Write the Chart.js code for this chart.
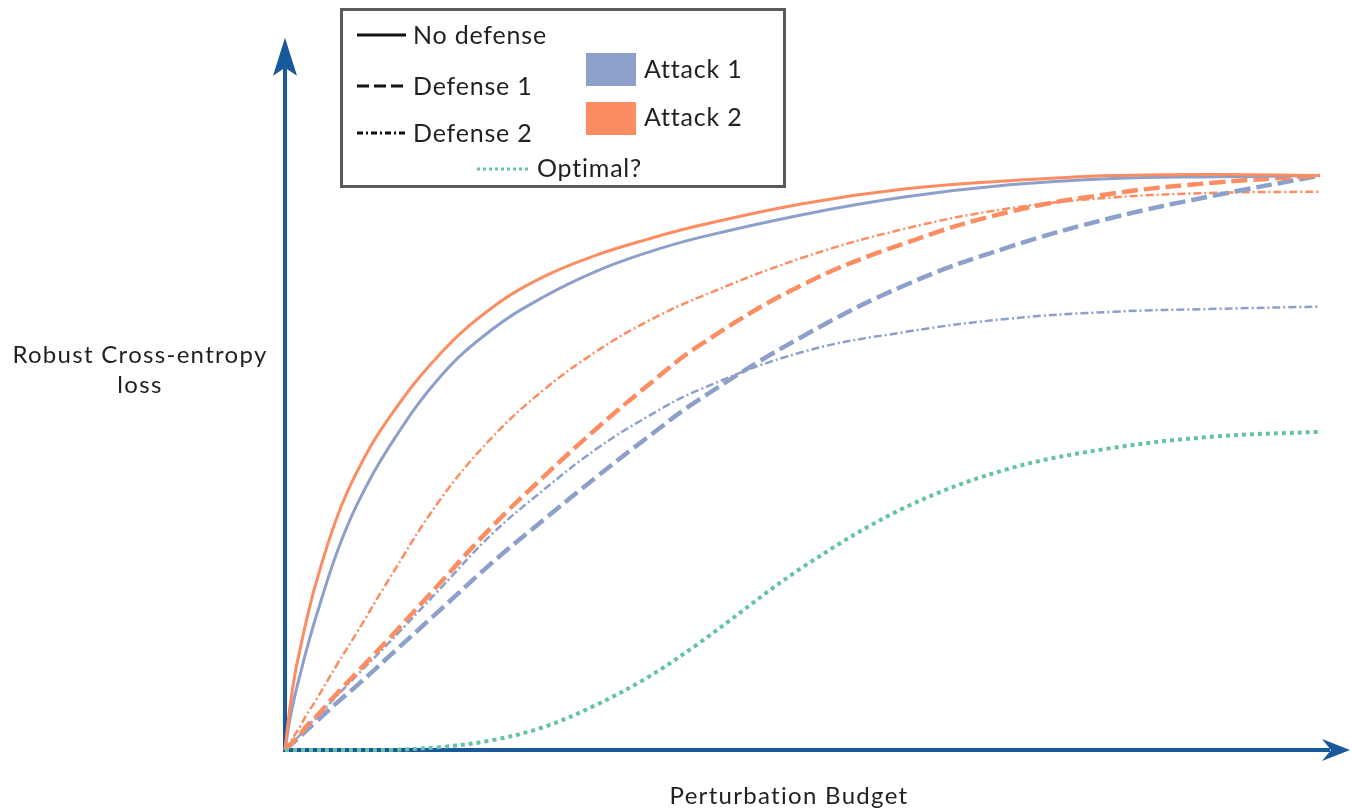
<!DOCTYPE html>
<html><head><meta charset="utf-8">
<script src="https://cdn.jsdelivr.net/npm/chart.js@4.4.1/dist/chart.umd.min.js"></script>
<style>html,body{margin:0;padding:0;background:#fff;}canvas{display:block}</style>
</head><body>
<canvas id="c" width="1352" height="809"></canvas>
<script>
// Perturbation budget (x, arbitrary units 0..100)
const budget = [0,0.5,1,1.5,2,3,5,7,10,15,20,25,30,35,40,50,60,70,80,90,100];
// Robust cross-entropy loss (arbitrary units, 100 = saturation)
const noDefenseAttack1 = [0,5.6,9.8,13.4,16.9,23.2,34.3,42.9,52.6,65.0,73.2,78.9,83.3,86.6,89.2,93.2,96.3,98.4,99.5,99.8,100];
const noDefenseAttack2 = [0,7.8,13.6,17.9,22.0,29.1,40.4,48.6,57.7,69.0,77.0,82.4,86.1,88.9,91.3,95.1,97.7,99.1,100.0,100.2,100];
const defense1Attack1 = [0,0.8,1.6,2.4,3.3,4.9,8.2,11.3,16.2,24.4,32.6,40.1,47.4,54.4,61.0,72.0,81.0,87.6,92.7,96.6,100];
const defense1Attack2 = [0,0.9,1.9,2.8,4.0,5.8,9.8,13.6,19.3,29.1,38.9,47.6,55.8,63.4,70.4,81.0,88.3,93.7,96.9,98.8,100];
const defense2Attack1 = [0,0.9,1.8,2.7,3.8,5.6,9.4,13.1,18.6,28.1,37.6,45.3,52.3,58.0,62.7,69.3,72.8,75.1,76.3,76.8,77.2];
const defense2Attack2 = [0,1.4,2.8,4.2,5.9,8.7,14.8,20.6,29.6,43.6,54.4,62.7,69.3,74.6,78.8,85.7,90.8,94.3,96.2,97.0,97.2];
const optimal = [0,0,0,0,0,0,0,0,0,0.5,1.7,4.0,7.8,12.6,18.6,31.8,42.3,49.0,52.6,54.6,55.4];

const legendLineLabels = ['No defense','Defense 1','Defense 2'];
const legendAttackLabels = ['Attack 1','Attack 2'];
const legendOptimalLabel = 'Optimal?';
const xTitle = 'Perturbation Budget';
const yTitleLines = ['Robust Cross-entropy','loss'];

const BLUE = '#8DA0CB', ORANGE = '#FC8D62', GREEN = '#66C2A5', AXIS = '#17599A', TEXT = '#231F20';

function pts(arr){ return budget.map((x,i)=>({x:x, y:arr[i]})); }
function ds(label, arr, color, width, dash, tension){
  return {label, data: pts(arr), borderColor: color, borderWidth: width, borderDash: dash,
    pointRadius: 0, fill: false, tension: tension, clip: false, borderCapStyle: 'butt'};
}

const axisPlugin = {
  id: 'axes',
  beforeDatasetsDraw(chart){
    const ctx = chart.ctx, xs = chart.scales.x, ys = chart.scales.y;
    const x0 = xs.getPixelForValue(0), y0 = ys.getPixelForValue(0);
    const yTip = ys.getPixelForValue(124), xTip = xs.getPixelForValue(102.9);
    ctx.save();
    ctx.strokeStyle = AXIS; ctx.fillStyle = AXIS; ctx.lineWidth = 4; ctx.lineCap = 'butt';
    ctx.beginPath(); ctx.moveTo(x0, y0 + 2); ctx.lineTo(x0, yTip + 30); ctx.stroke();
    ctx.beginPath(); ctx.moveTo(x0 - 2, y0); ctx.lineTo(xTip - 20, y0); ctx.stroke();
    ctx.beginPath(); ctx.moveTo(x0, yTip); ctx.lineTo(x0 - 12, yTip + 38); ctx.lineTo(x0, yTip + 30); ctx.lineTo(x0 + 12, yTip + 38); ctx.closePath(); ctx.fill();
    ctx.beginPath(); ctx.moveTo(xTip, y0); ctx.lineTo(xTip - 28, y0 - 11); ctx.lineTo(xTip - 19, y0); ctx.lineTo(xTip - 28, y0 + 11); ctx.closePath(); ctx.fill();
    ctx.restore();
  },
  afterDraw(chart){
    const ctx = chart.ctx;
    ctx.save();
    ctx.fillStyle = TEXT; ctx.textBaseline = 'middle';
    ctx.font = '24px Lato';
    ctx.letterSpacing = '1.3px';
    ctx.textAlign = 'center';
    ctx.fillText(yTitleLines[0], 140, 355);
    ctx.fillText(yTitleLines[1], 140, 385);
    ctx.fillText(xTitle, 789, 796);
    ctx.fillStyle = '#fff';
    ctx.fillRect(341, 9, 443, 178);
    ctx.strokeStyle = '#5a5a5a'; ctx.lineWidth = 3;
    ctx.strokeRect(341.5, 9.5, 443, 177);
    ctx.fillStyle = TEXT; ctx.textAlign = 'left'; ctx.font = '25px Lato';
    ctx.letterSpacing = '0.8px';
    const rows = [35, 86, 133];
    const dashes = [[], [12,5], [6,3,2,3]];
    for (let i = 0; i < 3; i++){
      ctx.strokeStyle = '#111'; ctx.lineWidth = 3; ctx.setLineDash(dashes[i]);
      ctx.beginPath(); ctx.moveTo(357, rows[i]); ctx.lineTo(406, rows[i]); ctx.stroke();
      ctx.fillText(legendLineLabels[i], 413, rows[i] + 1);
    }
    ctx.setLineDash([]);
    ctx.fillStyle = BLUE; ctx.fillRect(586, 53, 50, 33);
    ctx.fillStyle = ORANGE; ctx.fillRect(586, 102, 50, 33);
    ctx.fillStyle = TEXT;
    ctx.fillText(legendAttackLabels[0], 644, 70);
    ctx.fillText(legendAttackLabels[1], 644, 118);
    ctx.strokeStyle = GREEN; ctx.lineWidth = 3; ctx.setLineDash([3,3]);
    ctx.beginPath(); ctx.moveTo(477, 169); ctx.lineTo(528, 169); ctx.stroke();
    ctx.setLineDash([]);
    ctx.fillText(legendOptimalLabel, 537, 169);
    ctx.restore();
  }
};

new Chart(document.getElementById('c'), {
  type: 'line',
  data: { datasets: [
    ds('Optimal?', optimal, GREEN, 4, [4,4], 0.35),
    ds('No defense / Attack 2', noDefenseAttack2, ORANGE, 3, [], 0.4),
    ds('No defense / Attack 1', noDefenseAttack1, BLUE, 3, [], 0.4),
    ds('Defense 1 / Attack 2', defense1Attack2, ORANGE, 4.5, [16,6], 0.4),
    ds('Defense 1 / Attack 1', defense1Attack1, BLUE, 4.5, [16,6], 0.4),
    ds('Defense 2 / Attack 2', defense2Attack2, ORANGE, 2.5, [8,3,2,3], 0.4),
    ds('Defense 2 / Attack 1', defense2Attack1, BLUE, 2.5, [8,3,2,3], 0.4)
  ]},
  options: {
    responsive: false, animation: false, devicePixelRatio: 1,
    layout: { padding: { left: 285, right: 32, top: 32, bottom: 59 } },
    scales: {
      x: { type: 'linear', min: 0, max: 100, display: false },
      y: { type: 'linear', min: 0, max: 125, display: false }
    },
    plugins: { legend: { display: false }, tooltip: { enabled: false } }
  },
  plugins: [axisPlugin]
});
</script>
</body></html>
